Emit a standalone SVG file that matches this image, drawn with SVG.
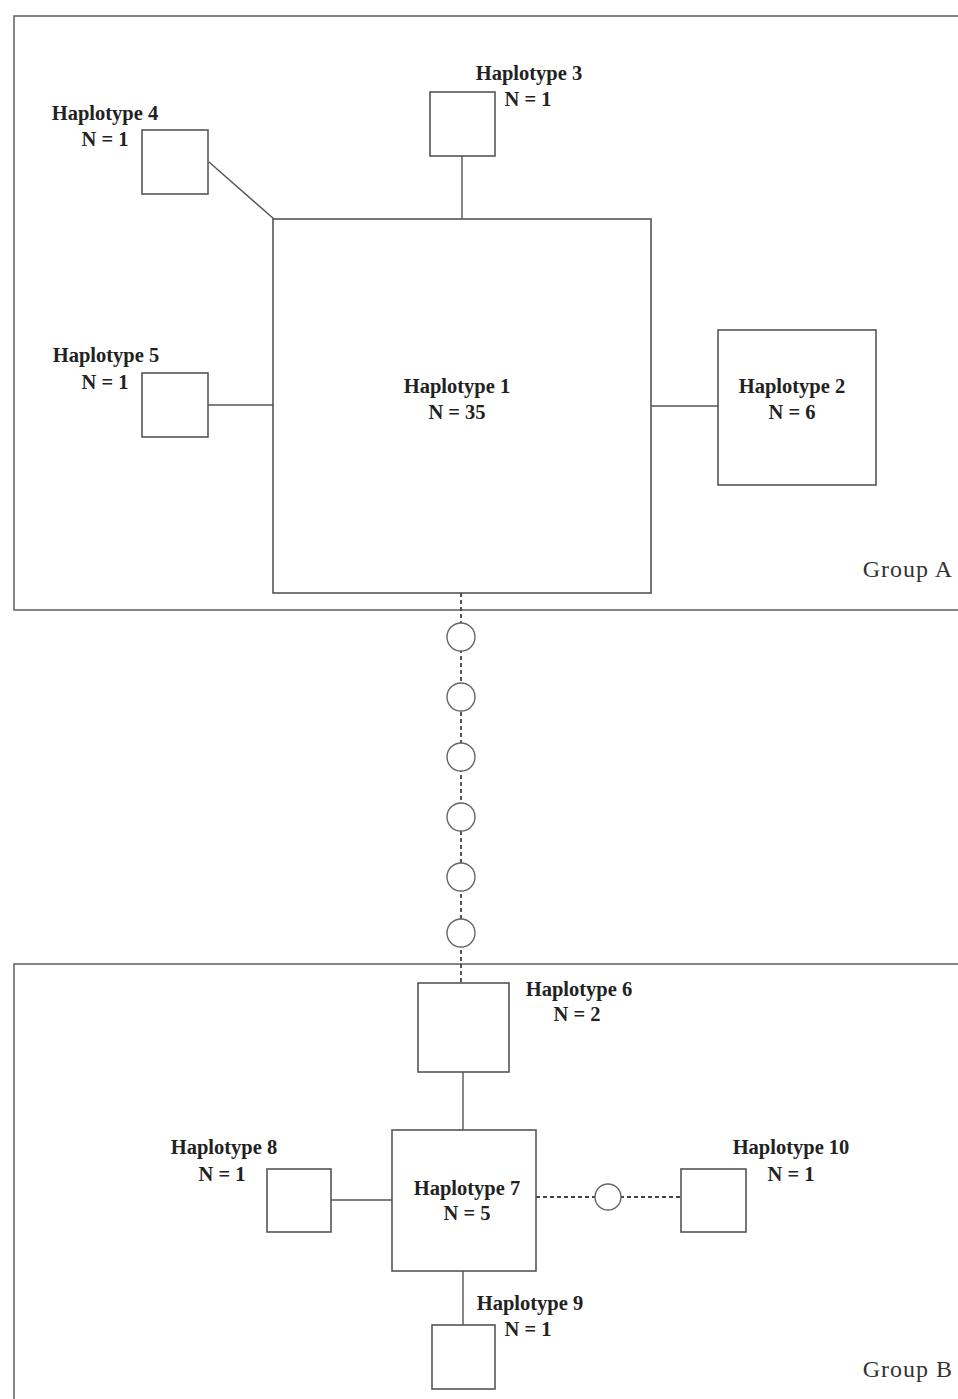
<svg xmlns="http://www.w3.org/2000/svg" width="958" height="1399" viewBox="0 0 958 1399">
<style>
.grp{fill:none;stroke:#666;stroke-width:1.6}
.box{fill:#fff;stroke:#555;stroke-width:1.6}
.ln{stroke:#555;stroke-width:1.4;fill:none}
.dash{stroke:#444;stroke-width:1.8;stroke-dasharray:4 3;fill:none}
.circ{fill:#fff;stroke:#666;stroke-width:1.4}
text{font-family:"Liberation Serif","Times New Roman",serif;font-size:20.5px;fill:#222;text-anchor:middle;font-weight:bold}
.gl{font-size:24px;font-weight:normal;text-anchor:end;fill:#333;letter-spacing:1px}
</style>
<rect width="958" height="1399" fill="#fff"/>
<g id="groupA"><rect class="grp" x="14" y="16" width="960" height="594"/><text class="gl" x="953" y="577">Group A</text></g>
<g id="groupB"><rect class="grp" x="14" y="964" width="960" height="450"/><text class="gl" x="953" y="1377">Group B</text></g>
<g id="connectors">
<line class="ln" x1="209" y1="162" x2="274" y2="219"/>
<line class="ln" x1="462" y1="156" x2="462" y2="219"/>
<line class="ln" x1="208" y1="405" x2="273" y2="405"/>
<line class="ln" x1="651" y1="406" x2="718" y2="406"/>
<line class="dash" x1="461" y1="593" x2="461" y2="983"/>
<line class="ln" x1="463" y1="1072" x2="463" y2="1130"/>
<line class="ln" x1="331" y1="1200" x2="392" y2="1200"/>
<line class="dash" x1="536" y1="1197" x2="682" y2="1197"/>
<line class="ln" x1="463" y1="1271" x2="463" y2="1325"/>
</g>
<g id="mv1"><circle class="circ" cx="461" cy="637" r="14"/></g>
<g id="mv2"><circle class="circ" cx="461" cy="697" r="14"/></g>
<g id="mv3"><circle class="circ" cx="461" cy="757" r="14"/></g>
<g id="mv4"><circle class="circ" cx="461" cy="817" r="14"/></g>
<g id="mv5"><circle class="circ" cx="461" cy="877" r="14"/></g>
<g id="mv6"><circle class="circ" cx="461" cy="933" r="14"/></g>
<g id="mv7"><circle class="circ" cx="608" cy="1197" r="13"/></g>
<g id="h1"><rect class="box" x="273" y="219" width="378" height="374"/><text x="457" y="393">Haplotype 1</text><text x="457" y="419">N = 35</text></g>
<g id="h2"><rect class="box" x="718" y="330" width="158" height="155"/><text x="792" y="393">Haplotype 2</text><text x="792" y="419">N = 6</text></g>
<g id="h3"><rect class="box" x="430" y="92" width="65" height="64"/><text x="529" y="80">Haplotype 3</text><text x="528" y="106">N = 1</text></g>
<g id="h4"><rect class="box" x="142" y="130" width="66" height="64"/><text x="105" y="120">Haplotype 4</text><text x="105" y="146">N = 1</text></g>
<g id="h5"><rect class="box" x="142" y="373" width="66" height="64"/><text x="106" y="362">Haplotype 5</text><text x="105" y="389">N = 1</text></g>
<g id="h6"><rect class="box" x="418" y="983" width="91" height="89"/><text x="579" y="996">Haplotype 6</text><text x="577" y="1021">N = 2</text></g>
<g id="h7"><rect class="box" x="392" y="1130" width="144" height="141"/><text x="467" y="1195">Haplotype 7</text><text x="467" y="1220">N = 5</text></g>
<g id="h8"><rect class="box" x="267" y="1169" width="64" height="63"/><text x="224" y="1154">Haplotype 8</text><text x="222" y="1181">N = 1</text></g>
<g id="h9"><rect class="box" x="432" y="1325" width="63" height="64"/><text x="530" y="1310">Haplotype 9</text><text x="528" y="1336">N = 1</text></g>
<g id="h10"><rect class="box" x="681" y="1169" width="65" height="63"/><text x="791" y="1154">Haplotype 10</text><text x="791" y="1181">N = 1</text></g>
</svg>
